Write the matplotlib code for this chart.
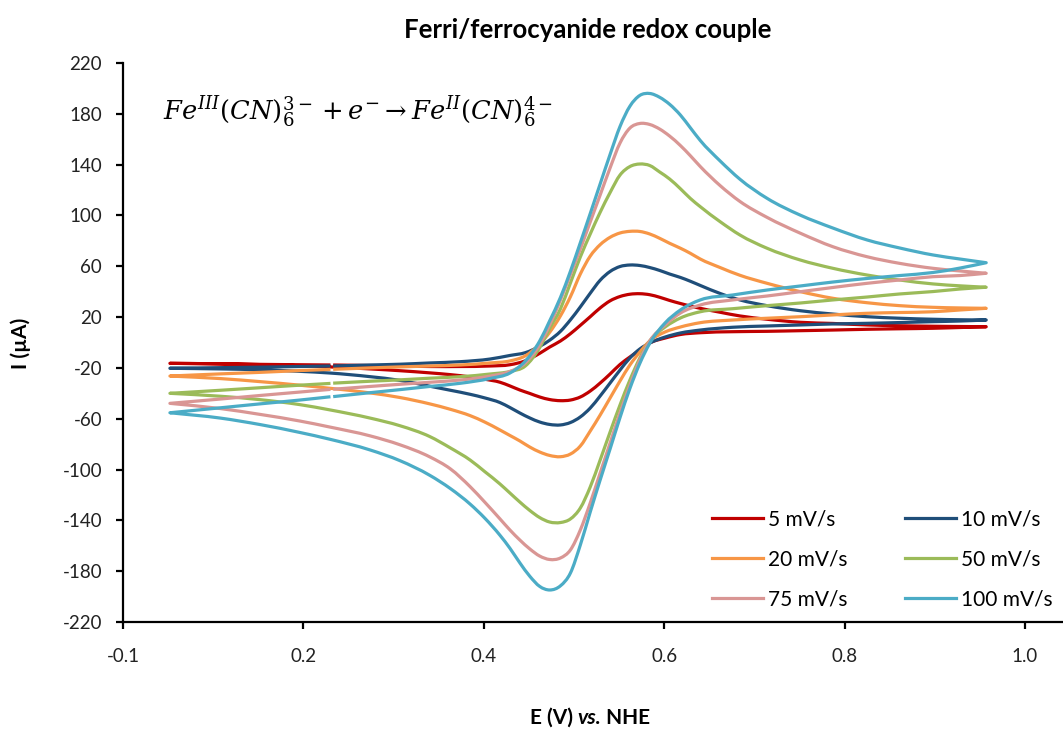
import numpy as np
import matplotlib
matplotlib.use("Agg")
import matplotlib.pyplot as plt
from matplotlib.path import Path
from matplotlib.patches import PathPatch
from matplotlib.lines import Line2D

# ---- data: cyclic voltammograms of the ferri/ferrocyanide couple ----
# potential grid of the forward (anodic) sweep, left vertex -> right vertex
E_fwd = [0.052, 0.108, 0.152, 0.196, 0.230, 0.233, 0.274, 0.307, 0.340, 0.374,
         0.407, 0.429, 0.446, 0.462, 0.473, 0.485, 0.496, 0.507, 0.518, 0.529,
         0.540, 0.551, 0.562, 0.573, 0.584, 0.595, 0.606, 0.618, 0.629, 0.640,
         0.662, 0.684, 0.714, 0.751, 0.787, 0.825, 0.861, 0.898, 0.928, 0.957]
# potential grid of the reverse (cathodic) sweep, right vertex -> left vertex
E_rev = [0.957, 0.928, 0.898, 0.861, 0.825, 0.787, 0.751, 0.714, 0.676, 0.640,
         0.618, 0.601, 0.584, 0.573, 0.562, 0.551, 0.540, 0.529, 0.518, 0.507,
         0.496, 0.485, 0.473, 0.462, 0.451, 0.440, 0.429, 0.418, 0.401, 0.385,
         0.363, 0.340, 0.307, 0.274, 0.229, 0.196, 0.152, 0.108, 0.052]

# currents (uA) for each scan rate
i_fwd_5 = [-16.4, -16.8, -17.2, -17.5, -17.7, -17.7, -18.1, -18.5, -18.9, -18.9,
           -18.5, -17.5, -14.4, -8.5, -3.6, 1.2, 6.9, 13.5, 20.3, 27.2,
           32.8, 36.2, 38.0, 38.4, 37.6, 35.6, 33.1, 30.7, 28.7, 26.9,
           23.8, 20.9, 18.3, 15.9, 15.0, 13.8, 13.2, 12.8, 12.6, 12.4]
i_rev_5 = [12.4, 11.8, 11.2, 10.8, 10.4, 9.8, 9.3, 8.8, 8.5, 7.7,
           6.3, 3.5, -0.4, -5.9, -11.4, -17.3, -24.8, -31.9, -38.2, -42.9,
           -45.3, -45.8, -44.9, -42.9, -40.1, -37.4, -34.2, -31.3, -28.9, -27.1,
           -25.3, -23.9, -22.2, -20.8, -19.2, -18.3, -17.4, -16.8, -16.4]

i_fwd_10 = [-20.3, -19.8, -19.4, -18.9, -18.5, -18.5, -17.7, -17.1, -16.1, -15.1,
            -13.0, -10.2, -8.0, -3.0, 1.8, 8.8, 17.8, 28.0, 38.8, 49.0,
            55.9, 59.8, 61.0, 60.6, 59.0, 56.7, 53.9, 51.2, 48.2, 44.9,
            38.6, 33.5, 29.0, 25.0, 22.4, 20.3, 19.1, 18.3, 17.9, 17.7]
i_rev_10 = [17.7, 16.9, 16.4, 15.7, 15.1, 14.6, 13.8, 13.0, 12.0, 9.8,
            7.5, 4.3, -0.4, -5.1, -12.2, -21.7, -31.9, -42.1, -51.6, -58.6,
            -63.0, -64.9, -64.5, -62.6, -59.4, -55.5, -51.2, -47.3, -43.6, -40.8,
            -37.6, -34.4, -29.8, -26.9, -24.0, -22.7, -21.5, -20.8, -20.3]

i_fwd_20 = [-26.4, -24.7, -23.5, -22.1, -21.2, -21.1, -20.0, -19.2, -18.5, -17.7,
            -16.1, -14.5, -10.5, -1.2, 8.0, 21.0, 36.0, 53.9, 68.0, 77.0,
            82.8, 86.2, 87.5, 87.4, 85.4, 82.0, 78.1, 74.2, 70.2, 65.7,
            59.0, 52.9, 46.6, 40.0, 34.8, 31.3, 29.0, 27.7, 27.2, 26.9]
i_rev_20 = [26.9, 25.6, 24.2, 23.6, 23.0, 21.7, 20.3, 19.1, 17.7, 15.6,
            12.2, 8.3, 1.2, -7.5, -17.7, -30.3, -43.7, -57.1, -69.7, -81.5,
            -87.8, -89.9, -88.9, -86.2, -82.3, -77.5, -73.2, -68.9, -62.6, -57.6,
            -52.6, -48.3, -43.3, -39.7, -36.0, -33.6, -30.8, -28.4, -26.4]

i_fwd_50 = [-40.0, -37.6, -35.6, -33.6, -32.2, -32.0, -30.5, -29.4, -28.1, -26.9,
            -24.8, -22.8, -18.5, -4.0, 11.1, 26.5, 46.8, 67.3, 85.4, 102.5,
            118.0, 131.8, 138.5, 140.5, 139.3, 134.2, 128.7, 121.0, 113.4, 106.9,
            95.1, 84.6, 74.2, 64.9, 58.4, 53.1, 49.2, 46.1, 44.6, 43.5]
i_rev_50 = [43.5, 42.1, 40.1, 38.2, 35.8, 33.5, 31.1, 29.0, 26.6, 24.2,
            19.3, 12.2, 1.2, -12.2, -29.5, -49.2, -70.5, -92.5, -113.7, -130.3,
            -138.9, -141.7, -141.3, -137.8, -132.2, -125.6, -118.5, -111.4, -101.6, -92.6,
            -83.0, -74.0, -65.5, -59.5, -53.0, -48.9, -45.0, -42.3, -40.0]

i_fwd_75 = [-47.9, -44.5, -41.7, -39.0, -36.9, -36.8, -34.6, -32.9, -31.3, -29.5,
            -26.4, -22.8, -16.1, -1.6, 13.8, 33.5, 53.5, 73.6, 94.9, 116.1,
            137.4, 157.0, 168.8, 172.4, 171.6, 168.0, 162.5, 155.0, 147.0, 138.5,
            123.5, 111.0, 98.5, 86.0, 75.4, 67.5, 62.3, 58.4, 56.3, 54.5]
i_rev_75 = [54.5, 52.7, 51.8, 49.2, 46.6, 43.3, 40.0, 36.6, 33.5, 29.5,
            23.2, 13.8, 1.2, -13.8, -33.5, -55.5, -79.1, -102.7, -126.3, -147.6,
            -163.3, -169.6, -170.8, -168.1, -162.5, -155.5, -147.6, -138.9, -125.6, -113.6,
            -99.5, -90.0, -80.5, -73.5, -66.5, -61.8, -56.6, -52.0, -47.9]

i_fwd_100 = [-55.3, -51.4, -48.3, -45.3, -42.7, -42.6, -39.5, -37.1, -34.6, -32.1,
             -28.3, -24.0, -14.6, 1.2, 17.0, 35.5, 56.0, 78.5, 101.5, 124.8,
             148.0, 170.0, 186.0, 194.5, 196.0, 193.0, 187.5, 179.0, 169.0, 159.0,
             142.9, 128.5, 113.5, 100.2, 90.1, 80.7, 74.4, 68.9, 65.7, 62.8]
i_rev_100 = [62.8, 58.6, 55.1, 52.7, 50.4, 47.6, 44.5, 41.3, 37.4, 33.5,
             25.6, 15.4, -0.6, -16.4, -36.1, -59.1, -83.8, -108.2, -133.4, -159.4,
             -181.5, -191.5, -194.8, -192.0, -184.0, -173.5, -162.0, -151.8, -138.2, -127.3,
             -115.0, -104.5, -93.0, -84.6, -76.1, -70.8, -64.6, -59.5, -55.3]

rate_labels = ["5 mV/s", "10 mV/s", "20 mV/s", "50 mV/s", "75 mV/s", "100 mV/s"]
rate_colors = ["#C00000", "#1F4E79", "#F79646", "#9BBB59", "#D99694", "#4BACC6"]

x_ticks = [0.0, 0.2, 0.4, 0.6, 0.8, 1.0]
x_tick_labels = ["-0.1", "0.2", "0.4", "0.6", "0.8", "1.0"]
y_ticks = list(range(-220, 221, 40))

# index of the sweep start point on the forward branch (small gap in each trace)
START = 5


def smooth_segments(xs, ys):
    """Smooth cubic (Hermite) curve through a branch that is monotone in x,
    returned as Bezier control points."""
    x = np.asarray(xs, float)
    y = np.asarray(ys, float)
    n = len(x)
    h = np.diff(x)
    s = np.diff(y) / h
    d = np.empty(n)
    d[0], d[-1] = s[0], s[-1]
    for k in range(1, n - 1):
        w0, w1 = h[k] / (h[k - 1] + h[k]), h[k - 1] / (h[k - 1] + h[k])
        d[k] = w0 * s[k - 1] + w1 * s[k]
    verts = []
    for k in range(n - 1):
        dx = h[k] / 3.0
        verts += [(x[k] + dx, y[k] + d[k] * dx),
                  (x[k + 1] - dx, y[k + 1] - d[k + 1] * dx),
                  (x[k + 1], y[k + 1])]
    return verts


def sweep_path(e_f, i_f, e_r, i_r):
    pieces = [(e_f[START:], i_f[START:]), (e_r, i_r), (e_f[:START], i_f[:START])]
    verts = [(e_f[START], i_f[START])]
    for xs, ys in pieces:
        verts += smooth_segments(xs, ys)
    codes = [Path.MOVETO] + [Path.CURVE4] * (len(verts) - 1)
    return Path(np.array(verts), codes)


plt.rcParams["font.family"] = ["Lato", "DejaVu Sans"]
plt.rcParams["mathtext.fontset"] = "dejavuserif"
plt.rcParams["axes.unicode_minus"] = False

W, H = 1063, 732
LW = 2.3
fig = plt.figure(figsize=(W / 100, H / 100), dpi=100)
ax = fig.add_axes([123 / W, 110 / H, (W - 123) / W, 559 / H])

fwd_sets = [i_fwd_5, i_fwd_10, i_fwd_20, i_fwd_50, i_fwd_75, i_fwd_100]
rev_sets = [i_rev_5, i_rev_10, i_rev_20, i_rev_50, i_rev_75, i_rev_100]

handles = []
for i_f, i_r, lab, col in zip(fwd_sets, rev_sets, rate_labels, rate_colors):
    patch = PathPatch(sweep_path(E_fwd, i_f, E_rev, i_r), fill=False,
                      edgecolor=col, lw=LW, capstyle="butt", joinstyle="round")
    ax.add_patch(patch)
    handles.append(Line2D([], [], color=col, lw=LW, label=lab))

ax.set_xlim(0, (W - 123) / 902)
ax.set_ylim(-220, 220)
ax.set_xticks(x_ticks)
ax.set_xticklabels(x_tick_labels)
ax.set_yticks(y_ticks)

for s in ("top", "right"):
    ax.spines[s].set_visible(False)
for s in ("left", "bottom"):
    ax.spines[s].set_linewidth(1.6)
    ax.spines[s].set_color("black")
ax.tick_params(axis="both", direction="out", length=5, width=1.6,
               labelsize=13.5, colors="black", labelcolor="#222222")
ax.tick_params(axis="y", pad=10)
ax.tick_params(axis="x", pad=14)

# legend laid out row by row in two columns
order = [0, 2, 4, 1, 3, 5]
leg = ax.legend([handles[k] for k in order], [rate_labels[k] for k in order],
                ncol=2, frameon=False, fontsize=15,
                loc="upper left", bbox_to_anchor=(712 / W, 1 - 509 / H),
                bbox_transform=fig.transFigure,
                borderpad=0, borderaxespad=0,
                handlelength=2.45, handletextpad=0.24,
                columnspacing=2.75, labelspacing=0.97)

# title, axis titles and reaction equation
fig.text(588 / W, 1 - 30 / H, "Ferri/ferrocyanide redox couple",
         ha="center", va="center", fontsize=18.5, fontweight="bold")
fig.text(21 / W, 1 - 343 / H, "I (\u00b5A)", rotation=90,
         ha="center", va="center", fontsize=15, fontweight="bold")
fig.text(163 / W, 1 - 112 / H,
         r"$Fe^{III}(CN)_6^{3-} + e^{-} \rightarrow Fe^{II}(CN)_6^{4-}$",
         ha="left", va="center", fontsize=18.5)

renderer = fig.canvas.get_renderer()
pieces = [("E (V) ", dict(fontweight="bold")),
          ("vs.", dict(fontweight="bold", fontstyle="italic")),
          (" NHE", dict(fontweight="bold"))]
txts, widths = [], []
for s, kw in pieces:
    t = fig.text(0, 1 - 718 / H, s, ha="left", va="center", fontsize=15, **kw)
    txts.append(t)
    widths.append(t.get_window_extent(renderer).width)
x0 = 590 - sum(widths) / 2
for t, w in zip(txts, widths):
    t.set_x(x0 / W)
    x0 += w

fig.savefig("out.png", dpi=100, facecolor="white")
